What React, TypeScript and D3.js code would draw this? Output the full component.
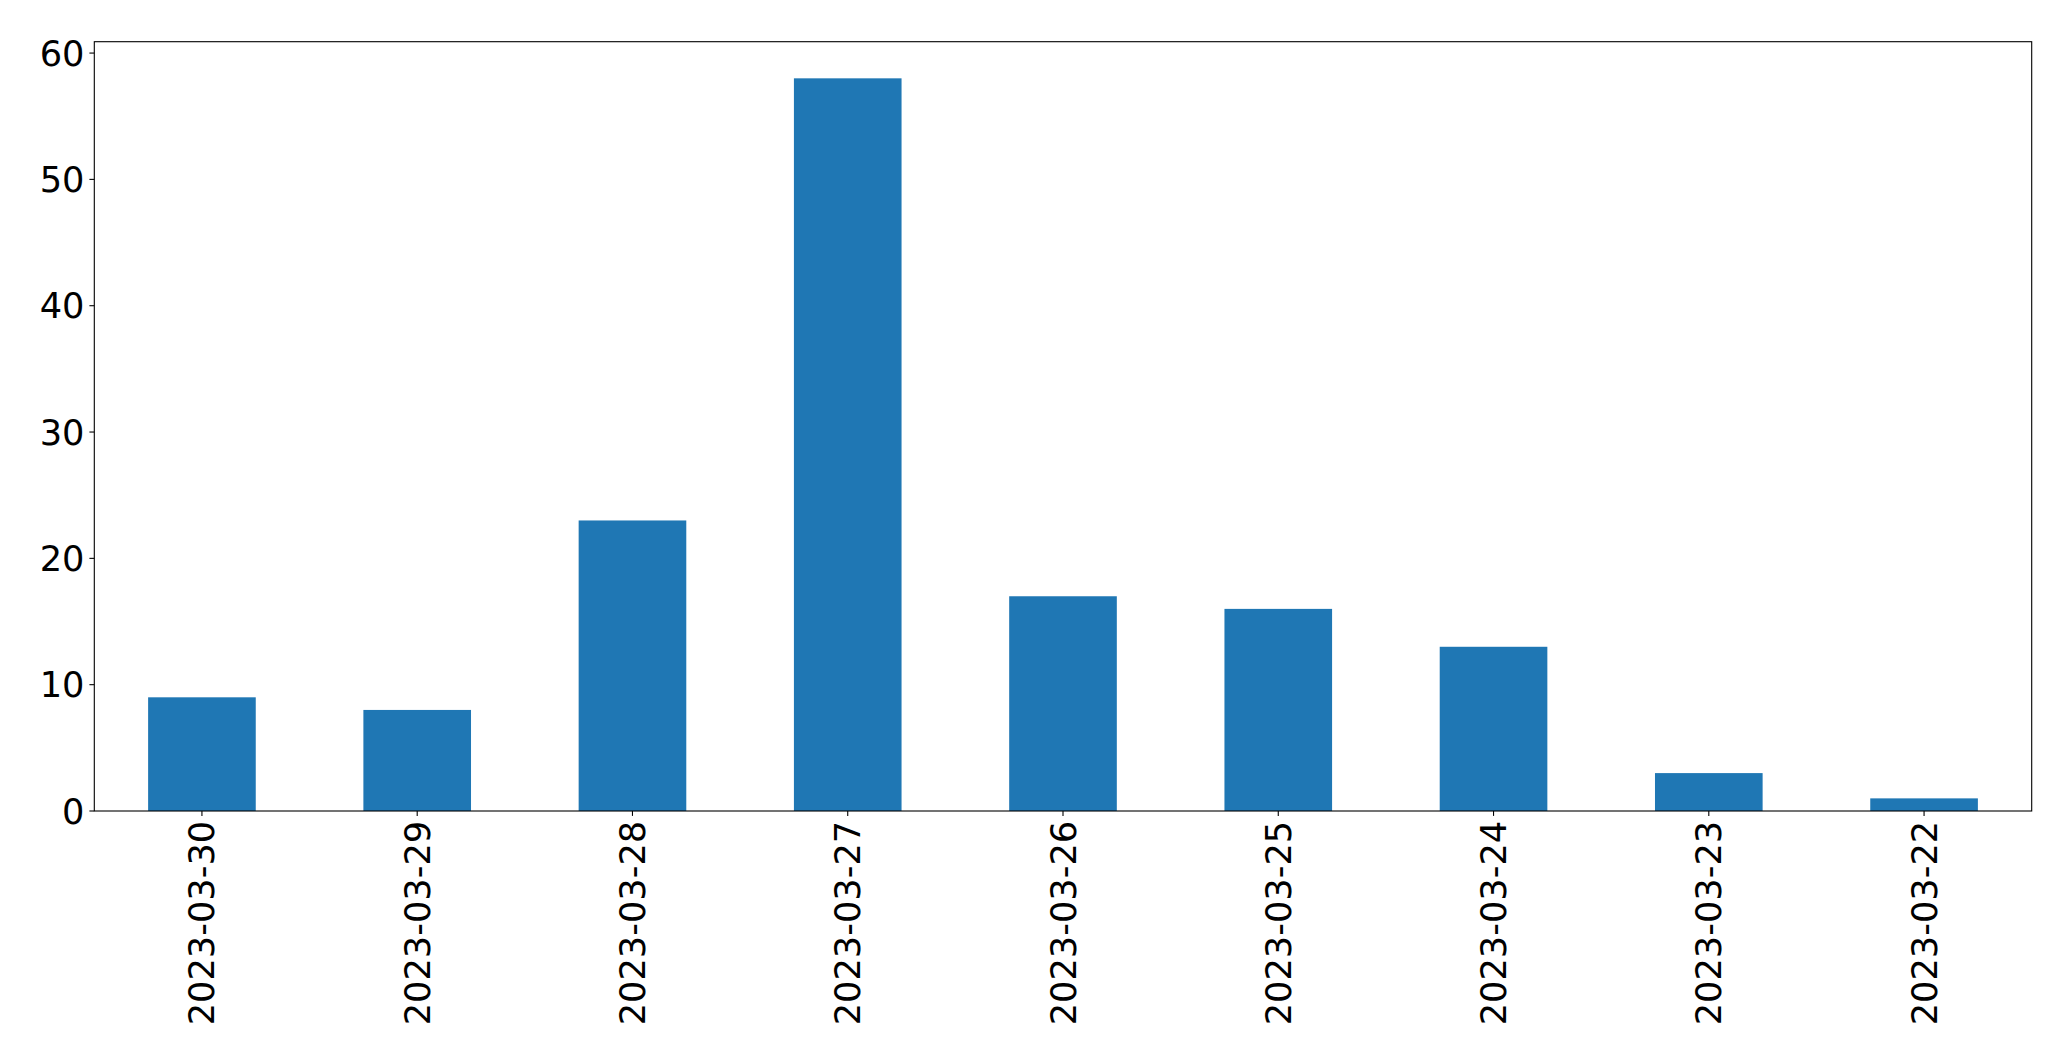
import React from "react";
import * as d3 from "d3";

const categories: string[] = [
  "2023-03-30", "2023-03-29", "2023-03-28", "2023-03-27", "2023-03-26",
  "2023-03-25", "2023-03-24", "2023-03-23", "2023-03-22",
];
const values: number[] = [9, 8, 23, 58, 17, 16, 13, 3, 1];
const yTicks: number[] = [0, 10, 20, 30, 40, 50, 60];

const W = 2071;
const H = 1063;
const left = 94.3;
const right = 2031.7;
const top = 41.7;
const bottom = 811;
const FONT = "DejaVu Sans, sans-serif";
const FS = 35.2;

export default function App() {
  const x = d3
    .scaleLinear()
    .domain([-0.5, categories.length - 0.5])
    .range([left, right]);
  const yMax = d3.max(values)! * 1.05;
  const y = d3.scaleLinear().domain([0, yMax]).range([bottom, top]);
  const bw = x(0.25) - x(-0.25);

  return (
    <svg
      width={W}
      height={H}
      style={{ position: "absolute", left: 0, top: 0, background: "#fff" }}
    >
      <rect x={0} y={0} width={W} height={H} fill="#fff" />
      {values.map((v, i) => (
        <rect
          key={i}
          x={x(i) - bw / 2}
          y={y(v)}
          width={bw}
          height={y(0) - y(v)}
          fill="#1f77b4"
        />
      ))}
      <rect
        x={left}
        y={top}
        width={right - left}
        height={bottom - top}
        fill="none"
        stroke="#000"
        strokeWidth={1.1}
      />
      {yTicks.map((t) => (
        <g key={t}>
          <line x1={left - 4.9} x2={left} y1={y(t)} y2={y(t)} stroke="#000" strokeWidth={1.1} />
          <text
            x={left - 9.8}
            y={y(t)}
            textAnchor="end"
            dominantBaseline="central"
            fontFamily={FONT}
            fontSize={FS}
            fill="#000"
          >
            {t}
          </text>
        </g>
      ))}
      {categories.map((c, i) => (
        <g key={c}>
          <line x1={x(i)} x2={x(i)} y1={bottom} y2={bottom + 4.9} stroke="#000" strokeWidth={1.1} />
          <text
            transform={`translate(${x(i)},${bottom + 9.8}) rotate(-90)`}
            textAnchor="end"
            dominantBaseline="central"
            fontFamily={FONT}
            fontSize={FS}
            fill="#000"
          >
            {c}
          </text>
        </g>
      ))}
    </svg>
  );
}
